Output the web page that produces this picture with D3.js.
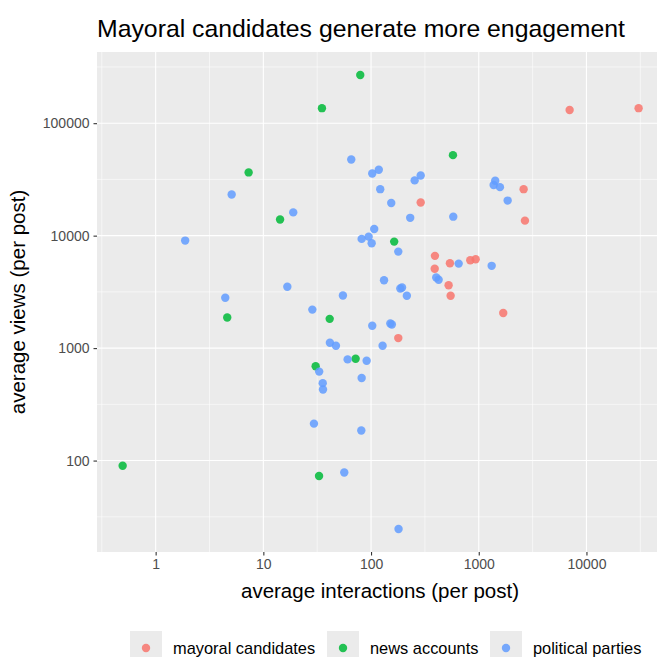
<!DOCTYPE html>
<html>
<head>
<meta charset="utf-8">
<script src="https://cdn.jsdelivr.net/npm/d3@7"></script>
<style>
  body { margin: 0; background: #fff; }
  text { font-family: "Liberation Sans", Arial, sans-serif; }
</style>
</head>
<body>
<div id="viz"></div>
<script>
// series values (interactions, views)
const mayoralX = [6980, 30500, 289, 2610, 2685, 392, 390, 540, 834, 936, 525, 548, 1688, 179];
const mayoralY = [131000, 136000, 19700, 25900, 13600, 6610, 5070, 5680, 6040, 6170, 3620, 2920, 2050, 1228];

const newsX = [79.4, 35, 7.3, 14.3, 576, 164, 4.62, 41.3, 71.9, 30.6, 0.494, 32.9];
const newsY = [268000, 136000, 36500, 13900, 52000, 8850, 1870, 1820, 805, 689, 89.8, 72.8];

const partiesX = [65.5, 102.6, 118, 121.7, 5.08, 18.95, 1.88, 107, 81.8, 95, 101.3, 16.7, 4.43, 54.8,
  254, 289, 154, 231, 580, 1422, 1375, 1573, 1855, 179, 651, 1318, 132, 403, 424, 187, 194, 215,
  102.6, 151, 156, 128, 28.5, 41.5, 47.2, 60.6, 91, 33.0, 35.6, 35.8, 81.8, 29.5, 81.2, 56.4, 180];
const partiesY = [47500, 35700, 38500, 25900, 23200, 16100, 9040, 11470, 9360, 9800, 8550, 3510, 2800, 2940,
  31000, 34300, 19500, 14400, 14750, 30800, 28200, 27000, 20500, 7210, 5640, 5390, 4010, 4240, 4050, 3390, 3460, 2920,
  1580, 1656, 1620, 1050, 2200, 1117, 1050, 794, 773, 618, 488, 428, 542, 213, 185, 78.3, 24.6];

const groups = ['mayoral candidates', 'news accounts', 'political parties'];
const colors = ['#F8766D', '#00BA38', '#619CFF'];
const xTicks = [1, 10, 100, 1000, 10000];
const yTicks = [100, 1000, 10000, 100000];

const W = 660, H = 657;
const panel = {left: 97, right: 657, top: 52, bottom: 552};

const data = [];
[[mayoralX, mayoralY], [newsX, newsY], [partiesX, partiesY]].forEach((s, gi) => {
  s[0].forEach((v, i) => data.push({x: v, y: s[1][i], g: gi}));
});

const x = d3.scaleLog()
  .domain([Math.pow(10, -0.5445), Math.pow(10, 4.655)])
  .range([panel.left, panel.right]);
const y = d3.scaleLog()
  .domain([Math.pow(10, 1.187), Math.pow(10, 5.633)])
  .range([panel.bottom, panel.top]);

const svg = d3.select('#viz').append('svg')
  .attr('width', W)
  .attr('height', H);

svg.append('rect')
  .attr('x', panel.left).attr('y', panel.top)
  .attr('width', panel.right - panel.left)
  .attr('height', panel.bottom - panel.top)
  .style('fill', '#EBEBEB');

// minor grid halfway between decades (log scale)
const xMinor = [-0.5, 0.5, 1.5, 2.5, 3.5, 4.5].map(e => Math.pow(10, e));
const yMinor = [1.5, 2.5, 3.5, 4.5, 5.5].map(e => Math.pow(10, e));

const grid = svg.append('g');
grid.selectAll('.xminor').data(xMinor).join('line')
  .attr('x1', d => x(d)).attr('x2', d => x(d))
  .attr('y1', panel.top).attr('y2', panel.bottom)
  .style('stroke', '#fff').style('stroke-width', 0.55);
grid.selectAll('.yminor').data(yMinor).join('line')
  .attr('y1', d => y(d)).attr('y2', d => y(d))
  .attr('x1', panel.left).attr('x2', panel.right)
  .style('stroke', '#fff').style('stroke-width', 0.55);
grid.selectAll('.xmajor').data(xTicks).join('line')
  .attr('x1', d => x(d)).attr('x2', d => x(d))
  .attr('y1', panel.top).attr('y2', panel.bottom)
  .style('stroke', '#fff').style('stroke-width', 1.1);
grid.selectAll('.ymajor').data(yTicks).join('line')
  .attr('y1', d => y(d)).attr('y2', d => y(d))
  .attr('x1', panel.left).attr('x2', panel.right)
  .style('stroke', '#fff').style('stroke-width', 1.1);

// axes
const xAxis = svg.append('g')
  .attr('transform', `translate(0,${panel.bottom})`)
  .call(d3.axisBottom(x).tickValues(xTicks).tickFormat(d3.format('d')).tickSize(3.5).tickPadding(4));
const yAxis = svg.append('g')
  .attr('transform', `translate(${panel.left},0)`)
  .call(d3.axisLeft(y).tickValues(yTicks).tickFormat(d3.format('d')).tickSize(3.5).tickPadding(4));
[xAxis, yAxis].forEach(a => {
  a.select('.domain').remove();
  a.selectAll('line').style('stroke', '#333').style('stroke-width', 1.1);
  a.selectAll('text').style('fill', '#4D4D4D').style('font-size', '14px')
    .style('font-family', '"Liberation Sans", Arial, sans-serif');
});

svg.append('g').selectAll('circle')
  .data(data)
  .join('circle')
  .attr('cx', d => x(d.x))
  .attr('cy', d => y(d.y))
  .attr('r', 4.2)
  .style('fill', d => colors[d.g])
  .style('opacity', 0.85);

// titles
svg.append('text')
  .attr('x', 97).attr('y', 37)
  .style('font-size', '24.8px').style('fill', '#000')
  .text('Mayoral candidates generate more engagement');

svg.append('text')
  .attr('x', (panel.left + panel.right) / 2 + 3).attr('y', 598)
  .attr('text-anchor', 'middle')
  .style('font-size', '20.5px').style('fill', '#000')
  .text('average interactions (per post)');

svg.append('text')
  .attr('transform', `translate(25,${(panel.top + panel.bottom) / 2}) rotate(-90)`)
  .attr('text-anchor', 'middle')
  .style('font-size', '20.5px').style('fill', '#000')
  .text('average views (per post)');

// legend
const legendX = [130, 327, 490];
const lg = svg.append('g');
groups.forEach((g, i) => {
  lg.append('rect')
    .attr('x', legendX[i]).attr('y', 631)
    .attr('width', 32).attr('height', 32)
    .style('fill', '#EBEBEB');
  lg.append('circle')
    .attr('cx', legendX[i] + 16).attr('cy', 648)
    .attr('r', 4.2)
    .style('fill', colors[i]).style('opacity', 0.85);
  lg.append('text')
    .attr('x', legendX[i] + 43).attr('y', 654)
    .style('font-size', '16.4px').style('fill', '#000')
    .text(g);
});
</script>
</body>
</html>
